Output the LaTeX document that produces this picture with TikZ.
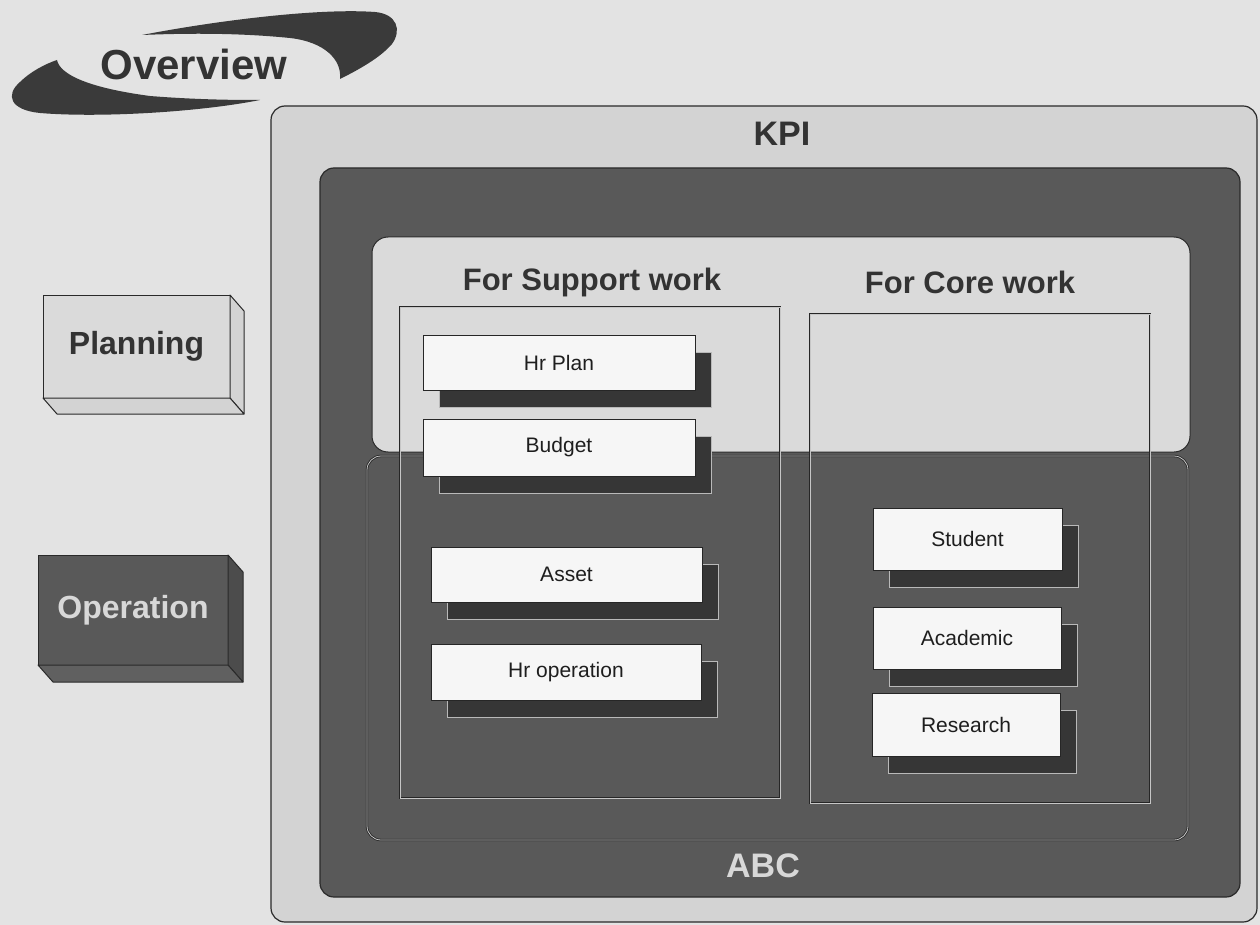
\documentclass[tikz,border=0pt]{standalone}
\usepackage{fontspec}
\setmainfont{Liberation Sans}
\usetikzlibrary{shadows}
\newcommand\setfs[1]{\fontsize{#1}{#1}\selectfont}
\definecolor{paper}{HTML}{E3E3E3}
\definecolor{kpifill}{HTML}{D3D3D3}
\definecolor{planfill}{HTML}{DADADA}
\definecolor{abcfill}{HTML}{595959}
\definecolor{swoosh}{HTML}{3A3A3A}
\definecolor{edge}{HTML}{2A2A2A}
\definecolor{cardwhite}{HTML}{F6F6F6}
\definecolor{cardtext}{HTML}{1E1E1E}
\definecolor{shade}{HTML}{363636}
\definecolor{headtext}{HTML}{333333}
\definecolor{lighttext}{HTML}{D8D8D8}
\tikzset{
  face/.style={draw=edge, line width=1pt, inner sep=0pt, outer sep=0pt, anchor=north west},
  panel/.style={draw=edge, line width=1.2pt, inner sep=0pt, outer sep=0pt, anchor=north west},
  frame/.style={draw=black!85, line width=0.8pt, double=gray!45, double distance=0.8pt, inner sep=0pt, outer sep=0pt, anchor=north west},
  card/.style={draw=black!85, line width=0.8pt, fill=cardwhite, inner sep=0pt, outer sep=0pt, anchor=north west,
    font=\setfs{21}, text=cardtext,
    general shadow={fill=shade, draw=gray!55, line width=1pt, shadow xshift=16pt, shadow yshift=-17pt}},
  heading/.style={font=\bfseries\setfs{31}, text=headtext},
}
\begin{document}
\begin{tikzpicture}[x=1pt,y=-1pt]
\useasboundingbox (0,0) rectangle (1260,925);
\fill[paper] (0,0) rectangle (1260,925);

% title swoosh
\fill[swoosh] (142,35) .. controls (220,20) and (320,8) .. (375,12)
  .. controls (397,14) and (402,30) .. (392,44)
  .. controls (380,58) and (358,70) .. (340,79)
  .. controls (342,60) and (325,42) .. (290,38)
  .. controls (240,33) and (190,33) .. (142,35) -- cycle;
\fill[swoosh] (260,100) .. controls (200,112) and (100,118) .. (40,113)
  .. controls (10,110) and (5,95) .. (20,82)
  .. controls (30,72) and (45,64) .. (57,60)
  .. controls (60,75) and (90,88) .. (150,96)
  .. controls (200,100) and (240,100) .. (260,100) -- cycle;
\node[font=\bfseries\setfs{42}, text=headtext] (title) at (194,64) {Overview};

% legend blocks
\node[face, fill=planfill, minimum width=187pt, minimum height=103pt,
      font=\bfseries\setfs{32}, text=headtext] (planning) at (43,295) {Planning};
\filldraw[fill=kpifill, draw=edge, line width=1pt, line join=round]
  (planning.north east) -- ++(14,16) -- ++(0,103) -- (planning.south east) -- cycle;
\filldraw[fill=kpifill, draw=edge, line width=1pt, line join=round]
  (planning.south west) -- (planning.south east) -- ++(14,16) -- ++(-187,0) -- cycle;

\node[face, fill=abcfill, minimum width=190pt, minimum height=110pt,
      font=\bfseries\setfs{32}, text=lighttext] (operation) at (38,555) {Operation};
\filldraw[fill=gray!60!black, draw=edge, line width=1pt, line join=round]
  (operation.north east) -- ++(15,17) -- ++(0,110) -- (operation.south east) -- cycle;
\filldraw[fill=gray!75!black, draw=edge, line width=1pt, line join=round]
  (operation.south west) -- (operation.south east) -- ++(15,17) -- ++(-190,0) -- cycle;

% nested frames
\node[panel, fill=kpifill, rounded corners=14pt, minimum width=986pt, minimum height=816pt] (kpi) at (271,106) {};
\node[heading, font=\bfseries\setfs{34}] (kpilabel) at (782,134) {KPI};

\node[panel, fill=abcfill, rounded corners=14pt, minimum width=920pt, minimum height=729pt] (abc) at (320,168) {};
\node[heading, font=\bfseries\setfs{34}, text=lighttext] (abclabel) at (763,866) {ABC};

\node[frame, rounded corners=14pt, minimum width=821pt, minimum height=384pt] (opzone) at (367,456) {};
\node[panel, fill=planfill, line width=1pt, rounded corners=16pt, minimum width=818pt, minimum height=215pt] (planzone) at (372,237) {};

\node[heading] (supportlabel) at (592,282) {For Support work};
\node[heading] (corelabel) at (970,282) {For Core work};

\node[frame, minimum width=380pt, minimum height=491pt] (support) at (400,307) {};
\node[frame, minimum width=340pt, minimum height=489pt] (core) at (810,314) {};

% activity cards
\node[card, minimum width=272pt, minimum height=55pt] (hrplan) at (423,335) {Hr Plan};
\node[card, minimum width=272pt, minimum height=57pt] (budget) at (423,419) {Budget};
\node[card, minimum width=271pt, minimum height=55pt] (asset) at (431,547) {Asset};
\node[card, minimum width=270pt, minimum height=56pt] (hrop) at (431,644) {Hr operation};
\node[card, minimum width=189pt, minimum height=62pt] (student) at (873,508) {Student};
\node[card, minimum width=188pt, minimum height=62pt] (academic) at (873,607) {Academic};
\node[card, minimum width=188pt, minimum height=63pt] (research) at (872,693) {Research};
\end{tikzpicture}
\end{document}
